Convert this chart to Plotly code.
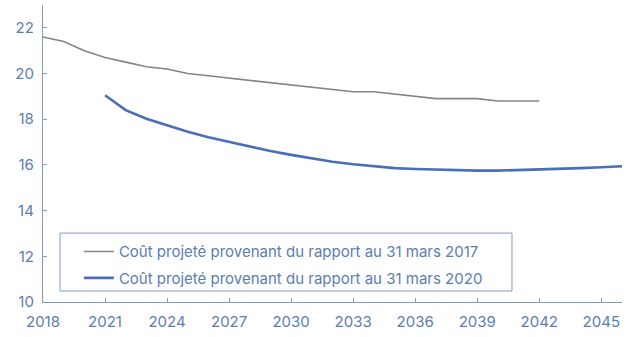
import plotly.graph_objects as go

years_2017 = list(range(2018, 2043))
cost_2017 = [21.6, 21.4, 21.0, 20.7, 20.5, 20.3, 20.2, 20.0, 19.9, 19.8, 19.7, 19.6,
             19.5, 19.4, 19.3, 19.2, 19.2, 19.1, 19.0, 18.9, 18.9, 18.9, 18.8, 18.8, 18.8]

years_2020 = list(range(2021, 2047))
cost_2020 = [19.05, 18.4, 18.02, 17.72, 17.45, 17.21, 17.0, 16.8, 16.61, 16.44, 16.28,
             16.14, 16.03, 15.95, 15.86, 15.82, 15.79, 15.76, 15.75, 15.75, 15.77, 15.8,
             15.83, 15.86, 15.9, 15.94]

label_2017 = "Coût projeté provenant du rapport au 31 mars 2017"
label_2020 = "Coût projeté provenant du rapport au 31 mars 2020"

x_ticks = list(range(2018, 2046, 3))
y_ticks = list(range(10, 23, 2))

txt = "#5b7db5"
axis_col = "#7f9cc8"
font = "Inter"

fig = go.Figure()
fig.add_trace(go.Scatter(x=years_2017, y=cost_2017, mode="lines", name=label_2017,
                         line=dict(color="#858585", width=1.6), legendgroup="a"))
fig.add_trace(go.Scatter(x=years_2020, y=cost_2020, mode="lines", name=label_2020,
                         line=dict(color="#4a6fb8", width=2.6), legendgroup="b"))

fig.update_layout(
    width=636, height=337,
    margin=dict(l=43, r=14, t=5, b=35),
    paper_bgcolor="white", plot_bgcolor="white",
    font=dict(family=font, size=15, color=txt),
    showlegend=True,
    legend=dict(x=0.062, y=0.225, xanchor="left", yanchor="top",
                borderwidth=0, bgcolor="rgba(0,0,0,0)",
                font=dict(family=font, size=15, color=txt),
                tracegroupgap=4, traceorder="grouped"),
    shapes=[dict(type="rect", xref="paper", yref="paper",
                 x0=0.0294, x1=0.810, y0=0.037, y1=0.232,
                 line=dict(color=axis_col, width=1), fillcolor="white", layer="below")],
    xaxis=dict(range=[2018, 2046], tickvals=x_ticks, ticktext=[str(v) for v in x_ticks],
               showgrid=False, zeroline=False, showline=True, linecolor=axis_col,
               linewidth=1.2, ticks="inside", ticklen=4, tickcolor=axis_col,
               ticklabelstandoff=6,
               tickfont=dict(family=font, size=15, color=txt)),
    yaxis=dict(range=[10, 23], tickvals=y_ticks, ticktext=[str(v) for v in y_ticks],
               showgrid=False, zeroline=False, showline=True, linecolor=axis_col,
               linewidth=1.2, ticks="inside", ticklen=4, tickcolor=axis_col,
               ticklabelstandoff=5,
               tickfont=dict(family=font, size=15, color=txt)),
)

fig.write_html("out.html")
